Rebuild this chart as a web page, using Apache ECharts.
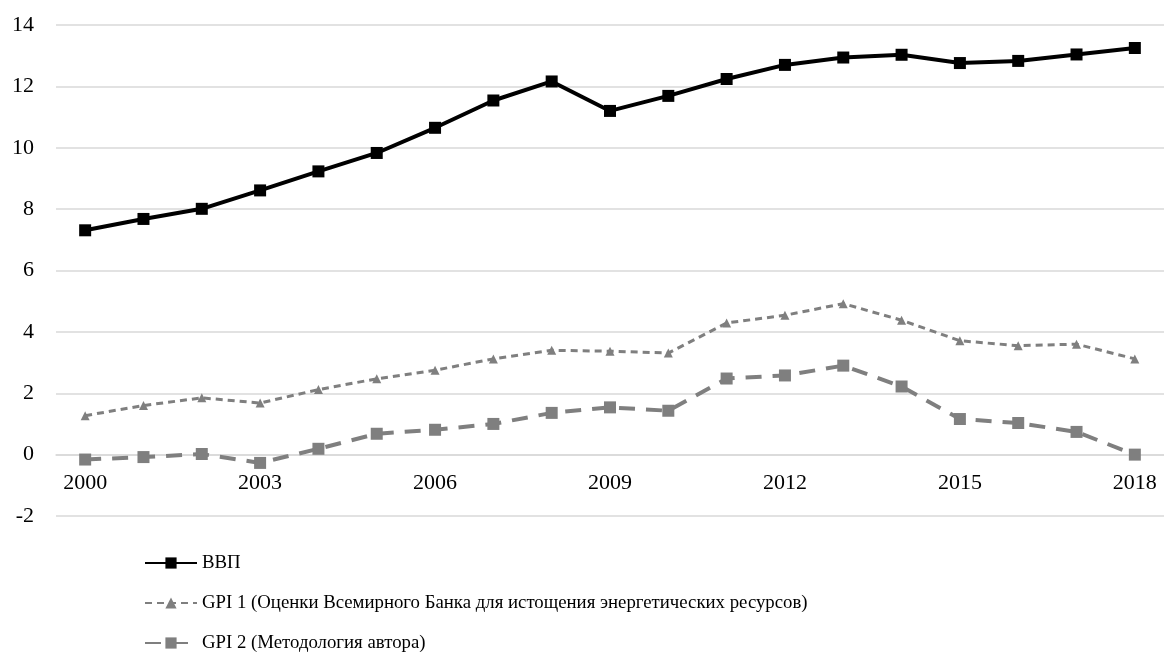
<!DOCTYPE html>
<html>
<head>
<meta charset="utf-8">
<script src="https://cdn.jsdelivr.net/npm/echarts@6/dist/echarts.min.js"></script>
<style>
  html, body { margin: 0; padding: 0; background: #fff; }
  #chart { width: 1164px; height: 659px; }
</style>
</head>
<body>
<div id="chart"></div>
<script>
// Years on the category axis
const years = ['2000','2001','2002','2003','2004','2005','2006','2007','2008','2009',
               '2010','2011','2012','2013','2014','2015','2016','2017','2018'];

// ВВП
const gdp = [7.31, 7.68, 8.01, 8.61, 9.23, 9.83, 10.65, 11.54, 12.16, 11.2,
             11.69, 12.24, 12.70, 12.94, 13.03, 12.76, 12.83, 13.04, 13.25];

// GPI 1 (World Bank energy depletion estimates)
const gpi1 = [1.27, 1.6, 1.85, 1.68, 2.12, 2.47, 2.75, 3.12, 3.40, 3.37,
              3.31, 4.29, 4.54, 4.92, 4.38, 3.71, 3.55, 3.6, 3.12];

// GPI 2 (author's methodology)
const gpi2 = [-0.16, -0.08, 0.02, -0.27, 0.19, 0.68, 0.81, 1.0, 1.36, 1.54,
              1.43, 2.48, 2.58, 2.9, 2.22, 1.16, 1.03, 0.74, 0.0];

const seriesNames = [
  'ВВП',
  'GPI 1 (Оценки Всемирного Банка для истощения энергетических ресурсов)',
  'GPI 2 (Методология автора)'
];

const Y_MIN = -2, Y_MAX = 14, Y_STEP = 2;

const FONT = '"Liberation Serif", "Times New Roman", serif';
const GREY = '#7f7f7f';

const W = 1164, H = 659;
const GRID = { left: 56, right: -2, top: 25, bottom: 143 };

// The year axis sits on the zero line: lift it from the bottom edge
// by the height of the band between Y_MIN and 0.
const plotHeight = H - GRID.top - GRID.bottom;
const zeroLift = plotHeight * (0 - Y_MIN) / (Y_MAX - Y_MIN);

const chart = echarts.init(document.getElementById('chart'), null, { renderer: 'canvas' });

// One legend block per series, stacked vertically under the plot
const legendTops = [553, 593, 633];
const legends = seriesNames.map((name, i) => ({
  orient: 'vertical',
  left: 144,
  top: legendTops[i],
  padding: 0,
  itemWidth: 52,
  itemHeight: 14,
  textStyle: { fontFamily: FONT, fontSize: 18.8, lineHeight: 20, color: '#000' },
  data: [name]
}));

chart.setOption({
  animation: false,
  backgroundColor: '#fff',
  grid: Object.assign({ containLabel: false }, GRID),
  legend: legends,
  xAxis: {
    type: 'category',
    data: years,
    boundaryGap: true,
    position: 'bottom',
    offset: -zeroLift,
    axisLine: { show: true, onZero: false, lineStyle: { color: '#d9d9d9', width: 1.5 } },
    axisTick: { show: false },
    axisLabel: {
      interval: 2,
      margin: 18,
      fontFamily: FONT,
      fontSize: 22,
      color: '#000'
    },
    splitLine: { show: false }
  },
  yAxis: {
    type: 'value',
    min: Y_MIN,
    max: Y_MAX,
    interval: Y_STEP,
    axisLine: { show: false },
    axisTick: { show: false },
    axisLabel: {
      margin: 22,
      fontFamily: FONT,
      fontSize: 22,
      color: '#000'
    },
    splitLine: { lineStyle: { color: '#d9d9d9', width: 1.5 } }
  },
  series: [
    {
      name: seriesNames[0],
      type: 'line',
      data: gdp,
      symbol: 'rect',
      symbolSize: 12,
      lineStyle: { color: '#000', width: 4 },
      itemStyle: { color: '#000' },
      z: 3
    },
    {
      name: seriesNames[1],
      type: 'line',
      data: gpi1,
      symbol: 'triangle',
      symbolSize: 9,
      lineStyle: { color: GREY, width: 3, type: [7, 5] },
      itemStyle: { color: GREY }
    },
    {
      name: seriesNames[2],
      type: 'line',
      data: gpi2,
      symbol: 'rect',
      symbolSize: 12,
      lineStyle: { color: GREY, width: 4, type: [16, 11] },
      itemStyle: { color: GREY }
    }
  ]
});
</script>
</body>
</html>
